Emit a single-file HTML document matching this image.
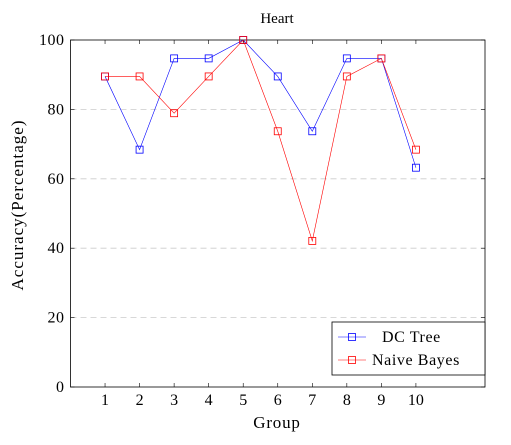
<!DOCTYPE html>
<html><head><meta charset="utf-8"><style>
body{margin:0;background:#fff;}
svg{display:block;font-family:"Liberation Serif",serif;}
</style></head><body>
<svg id="chart" width="511" height="445">
<text x="277" y="23" font-size="15" text-anchor="middle">Heart</text>
<text x="277" y="428" font-size="17" letter-spacing="0.8" text-anchor="middle">Group</text>
<text transform="translate(23,205) rotate(-90)" font-size="17" letter-spacing="1" text-anchor="middle">Accuracy(Percentage)</text>
<g id="grid"></g><g id="axes"></g><g id="series"></g>
<g>
<rect x="332" y="322" width="153" height="53" fill="#fff" stroke="#000" stroke-width="0.8"/>
<line x1="338" y1="337" x2="366" y2="337" stroke="#00f" stroke-width="0.6"/>
<rect x="348.5" y="333.5" width="7" height="7" fill="none" stroke="#00f" stroke-width="0.8"/>
<text x="382" y="342" font-size="16" letter-spacing="0.6">DC Tree</text>
<line x1="338" y1="360" x2="366" y2="360" stroke="#f00" stroke-width="0.6"/>
<rect x="348.5" y="356.5" width="7" height="7" fill="none" stroke="#f00" stroke-width="0.8"/>
<text x="372" y="365" font-size="16" letter-spacing="0.6">Naive Bayes</text>
</g>
</svg>
<script>
const groups=[1,2,3,4,5,6,7,8,9,10];
const dcTree=[89.5,68.4,94.7,94.7,100,89.5,73.7,94.7,94.7,63.2];
const naiveBayes=[89.5,89.5,78.9,89.5,100,73.7,42.1,89.5,94.7,68.4];
const yTicks=[0,20,40,60,80,100];
const NS="http://www.w3.org/2000/svg";
const L=70.5,R=485,T=40,B=387;
const xs=g=>L+(R-L)*g/12;
const ys=v=>B-(B-T)*v/100;
function mk(tag,attrs,parent){const e=document.createElementNS(NS,tag);for(const k in attrs)e.setAttribute(k,attrs[k]);parent.appendChild(e);return e;}
const grid=document.getElementById('grid'),axes=document.getElementById('axes'),ser=document.getElementById('series');
yTicks.forEach(v=>{
  if(v>0&&v<100){const g=mk('line',{x1:L,x2:R,y1:ys(v),y2:ys(v),stroke:'#ccc','stroke-dasharray':'6,4','stroke-width':0.8},grid);
  
  }
  mk('line',{x1:L,x2:L+4,y1:ys(v),y2:ys(v),stroke:'#000','stroke-width':0.6},axes);
  mk('line',{x1:R,x2:R-4,y1:ys(v),y2:ys(v),stroke:'#000','stroke-width':0.6},axes);
  const t=mk('text',{x:L-6,y:ys(v)+5,'font-size':16,'letter-spacing':0.5,'text-anchor':'end'},axes);t.textContent=v;
  
  
});
groups.forEach(g=>{
  mk('line',{x1:xs(g),x2:xs(g),y1:B,y2:B-4,stroke:'#000','stroke-width':0.6},axes);
  mk('line',{x1:xs(g),x2:xs(g),y1:T,y2:T+4,stroke:'#000','stroke-width':0.6},axes);
  const t=mk('text',{x:xs(g),y:B+18,'font-size':16,'text-anchor':'middle'},axes);t.textContent=g;
  
  
});
const fr=mk('rect',{x:L,y:T,width:R-L,height:B-T,fill:'none',stroke:'#000','stroke-width':0.8},axes);


function draw(vals,color,name){
  const pl=mk('polyline',{points:vals.map((v,i)=>xs(groups[i])+','+ys(v)).join(' '),fill:'none',stroke:color,'stroke-width':0.6},ser);
  
  
  vals.forEach((v,i)=>{const r=mk('rect',{x:xs(groups[i])-3.5,y:ys(v)-3.5,width:7,height:7,fill:'none',stroke:color,'stroke-width':0.8},ser);
    
    });
}
draw(dcTree,'#00f','dc-tree');
draw(naiveBayes,'#f00','naive-bayes');
</script>
</body></html>
